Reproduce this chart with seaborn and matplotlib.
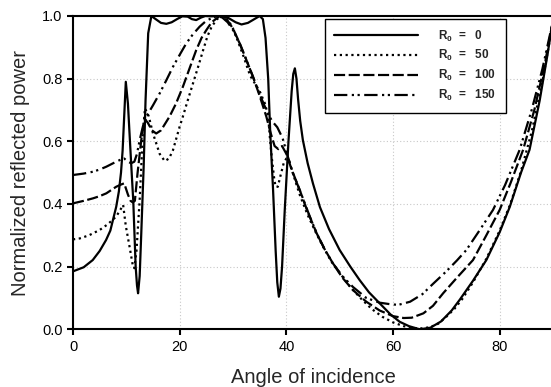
import numpy as np
import pandas as pd
import matplotlib
matplotlib.use("Agg")
import matplotlib.pyplot as plt
import seaborn as sns

# ---------------- data ----------------
x_r0 = [0, 2, 3.7, 5, 6.2, 7, 8.1, 8.6, 9.0, 9.3, 9.6, 9.9, 10.3, 10.6, 11.0, 11.3, 11.75, 12.0, 12.2,
        12.5, 12.8, 13.25, 13.6, 14.1, 14.7, 15.5, 16.5, 17.5, 18.5, 19.5, 20.5, 21.5, 22.3, 23.1, 24.0,
        24.8, 26, 27.5, 29, 30.5, 31.6, 32.8, 34, 35, 35.6, 36.1, 36.6, 37.0, 37.5, 38.0, 38.3, 38.6,
        38.9, 39.2, 39.7, 40.4, 41.0, 41.3, 41.6, 41.9, 42.2, 42.6, 43.1, 44.0, 45, 46.3, 48, 50, 52,
        53.75, 55.5, 57.5, 59.5, 61.25, 63, 65, 67, 69, 71, 72.5, 75, 77.5, 80, 81.9, 84, 85.6, 87.5,
        89, 90]
y_r0 = [0.185, 0.198, 0.221, 0.25, 0.285, 0.315, 0.391, 0.44, 0.50, 0.57, 0.68, 0.79, 0.72, 0.625, 0.50,
        0.41, 0.20, 0.14, 0.115, 0.17, 0.306, 0.519, 0.73, 0.945, 1.0, 0.99, 0.978, 0.975, 0.98, 0.99,
        0.999, 0.998, 0.99, 0.987, 0.995, 1.0, 0.999, 1.0, 0.995, 0.98, 0.973, 0.978, 0.99, 1.0, 0.99,
        0.93, 0.80, 0.62, 0.45, 0.25, 0.15, 0.104, 0.13, 0.20, 0.38, 0.60, 0.76, 0.815, 0.833, 0.80,
        0.735, 0.665, 0.604, 0.53, 0.465, 0.39, 0.32, 0.253, 0.20, 0.157, 0.118, 0.083, 0.048, 0.024,
        0.01, 0.0, 0.005, 0.025, 0.06, 0.094, 0.155, 0.221, 0.31, 0.391, 0.50, 0.573, 0.73, 0.88, 0.99]

x_r50 = [0, 1.25, 3, 5, 6.5, 8.1, 9.0, 9.4, 9.9, 10.6, 11.2, 11.5, 11.9, 12.5, 13.1, 13.5, 14.2, 15,
         16.25, 17.2, 18, 18.75, 20, 20.6, 21.5, 22.5, 23.5, 24.4, 25.2, 26, 27, 28, 29, 30, 30.6, 32,
         33.2, 35, 36, 36.6, 36.9, 37.25, 37.75, 38.0, 38.4, 38.9, 39.5, 40, 40.5, 41, 42.5, 44, 45.5,
         47, 48.5, 50, 52, 54, 56, 58, 60, 62, 64, 65.5, 67, 68.5, 70, 71.5, 73, 75, 77.5, 80, 82, 84,
         86, 88, 90]
y_r50 = [0.287, 0.29, 0.30, 0.317, 0.335, 0.36, 0.385, 0.397, 0.33, 0.264, 0.205, 0.195, 0.25, 0.413,
         0.625, 0.705, 0.68, 0.625, 0.56, 0.537, 0.545, 0.572, 0.647, 0.679, 0.73, 0.785, 0.84, 0.891,
         0.935, 0.966, 0.99, 1.0, 0.99, 0.96, 0.934, 0.87, 0.81, 0.76, 0.72, 0.68, 0.615, 0.551, 0.477,
         0.455, 0.455, 0.49, 0.53, 0.545, 0.54, 0.51, 0.43, 0.365, 0.31, 0.26, 0.215, 0.18, 0.135,
         0.098, 0.065, 0.04, 0.022, 0.01, 0.004, 0.003, 0.007, 0.018, 0.04, 0.065, 0.097, 0.15, 0.225,
         0.315, 0.40, 0.505, 0.63, 0.79, 0.98]

x_r100 = [0, 2, 3.75, 5, 6.25, 8.1, 9.0, 9.6, 10.3, 10.8, 11.2, 11.6, 12.1, 12.8, 13.4, 14.0, 14.8,
          15.6, 16.5, 18.1, 19.3, 20.6, 21.9, 23.1, 24.1, 25, 26, 27.5, 29, 30, 31.25, 32.5, 33.75, 35,
          36.25, 37.0, 37.8, 38.5, 39.2, 40.0, 41.0, 42.5, 44, 45.7, 47.2, 48.75, 50.5, 52.5, 55, 57.5,
          60, 62, 63.5, 65.7, 67.5, 69.4, 72, 75, 77.5, 80, 82, 84.4, 86.5, 88.5, 90]
y_r100 = [0.402, 0.41, 0.418, 0.425, 0.434, 0.455, 0.462, 0.466, 0.43, 0.41, 0.405, 0.41, 0.498, 0.604,
          0.672, 0.66, 0.635, 0.625, 0.635, 0.679, 0.72, 0.774, 0.835, 0.891, 0.93, 0.955, 0.98, 1.0,
          0.985, 0.96, 0.913, 0.86, 0.806, 0.745, 0.679, 0.63, 0.585, 0.575, 0.585, 0.56, 0.51, 0.445,
          0.375, 0.306, 0.255, 0.21, 0.165, 0.125, 0.088, 0.06, 0.042, 0.036, 0.037, 0.051, 0.075,
          0.115, 0.165, 0.221, 0.30, 0.381, 0.465, 0.573, 0.70, 0.85, 0.985]

x_r150 = [0, 2, 3.75, 5, 6.25, 8.1, 9.0, 9.6, 10.3, 10.9, 11.5, 12.0, 12.5, 13.1, 13.75, 15, 16.25,
          17.5, 18.75, 20, 21.25, 22.5, 23.75, 25, 26, 27, 28, 29, 30, 31.25, 32.5, 33.75, 35, 36.25,
          37.3, 38.3, 39.3, 40.3, 41.3, 42.5, 44.4, 45.7, 47.2, 48.75, 50.5, 52.5, 55, 57.5, 59.5, 61,
          63.2, 65.5, 67.5, 70, 72, 73.75, 76, 78.75, 81, 83.75, 86, 88, 90]
y_r150 = [0.4925, 0.497, 0.503, 0.51, 0.519, 0.535, 0.542, 0.545, 0.535, 0.53, 0.535, 0.56, 0.604,
          0.647, 0.679, 0.715, 0.753, 0.795, 0.838, 0.876, 0.913, 0.942, 0.966, 0.985, 0.993, 1.0,
          0.995, 0.98, 0.955, 0.913, 0.86, 0.806, 0.75, 0.70, 0.665, 0.645, 0.61, 0.55, 0.495, 0.445,
          0.36, 0.306, 0.255, 0.21, 0.17, 0.135, 0.1, 0.085, 0.08, 0.078, 0.088, 0.112, 0.145, 0.185,
          0.22, 0.253, 0.31, 0.381, 0.46, 0.573, 0.7, 0.83, 0.985]

labels = ["R$_0$  =   0", "R$_0$  =   50", "R$_0$  =   100", "R$_0$  =   150"]
x_ticks = [0, 20, 40, 60, 80]
y_ticks = [0.0, 0.2, 0.4, 0.6, 0.8, 1.0]

# ---------------- style ----------------
sns.set_theme(style="ticks")
plt.rcParams["font.family"] = ["Liberation Sans", "DejaVu Sans"]
plt.rcParams["mathtext.fontset"] = "custom"
plt.rcParams["mathtext.rm"] = "Liberation Sans:bold"
plt.rcParams["mathtext.it"] = "Liberation Sans:bold"
plt.rcParams["mathtext.bf"] = "Liberation Sans:bold"

W, H = 551, 387
fig = plt.figure(figsize=(W / 100, H / 100), dpi=100)
ax = fig.add_axes([73 / W, (H - 329.3) / H, 480 / W, (329.3 - 16) / H])

series = [(x_r0, y_r0), (x_r50, y_r50), (x_r100, y_r100), (x_r150, y_r150)]
styles = ["-", (0, (1, 1.6)), (0, (5, 1.6)), (0, (6, 2, 1, 1.6, 1, 2))]

for (xs, ys), lab, ls in zip(series, labels, styles):
    df = pd.DataFrame({"angle": xs, "power": ys})
    sns.lineplot(data=df, x="angle", y="power", ax=ax, color="black", lw=1.6,
                 linestyle=ls, label=lab, estimator=None, sort=False)

ax.set_xlim(0, 90)
ax.set_ylim(0, 1.0)
ax.set_xticks(x_ticks)
ax.set_yticks(y_ticks)
ax.set_yticklabels([f"{v:.1f}" for v in y_ticks])
ax.tick_params(axis="both", direction="out", length=4, width=1.5, labelsize=10.5, colors="black")
ax.grid(True, linestyle=(0, (1, 2)), color="#c8c8c8", lw=0.8)
for s in ax.spines.values():
    s.set_linewidth(1.5)
    s.set_color("black")
    s.set_visible(True)

ax.set_xlabel("Angle of incidence", fontsize=14.5, labelpad=10)
ax.set_ylabel("Normalized reflected power", fontsize=14.5, labelpad=9)

leg = ax.legend(loc="upper left", bbox_to_anchor=(0.525, 0.99), borderaxespad=0,
                frameon=True, fancybox=False, edgecolor="black", framealpha=1,
                prop={"weight": "bold", "size": 8.5}, handlelength=7.1, handletextpad=1.7,
                labelspacing=0.4, borderpad=0.8)
leg.get_frame().set_linewidth(1.0)

fig.savefig("out.png", dpi=100)
